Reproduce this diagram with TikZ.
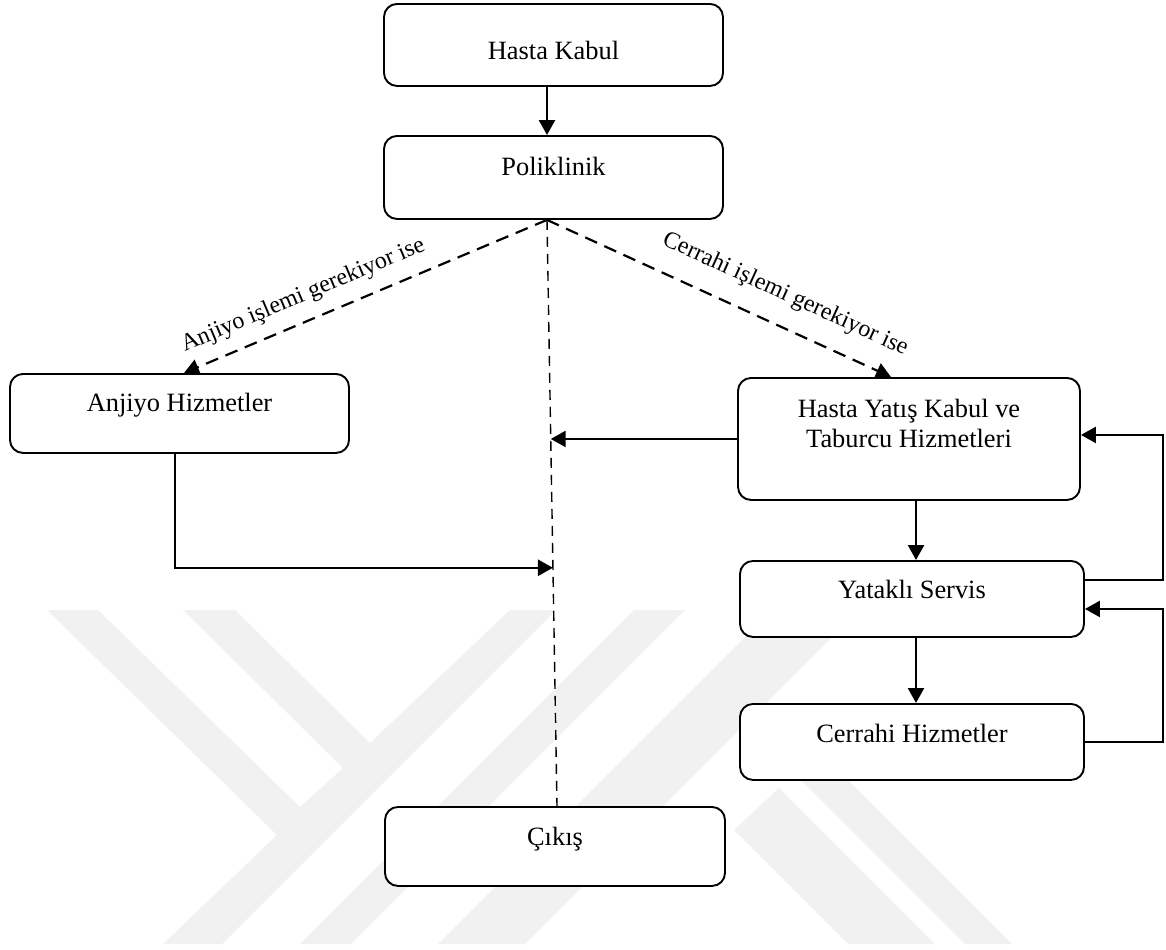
\documentclass[tikz,border=0pt]{standalone}
\usepackage{fontspec}
\setmainfont{Liberation Serif}
\usetikzlibrary{arrows.meta,calc}
\definecolor{wm}{HTML}{F1F1F1}
\begin{document}
\begin{tikzpicture}[x=1pt,y=-1pt,
  box/.style={draw, line width=0.95pt, rounded corners=6.5pt, fill=white, anchor=north,
    inner xsep=0pt, inner ysep=0pt, minimum height=0pt, font=\fontsize{13.2}{15}\selectfont},
  arr/.style={line width=1.25pt, -{Triangle[length=7.5pt,width=8pt]}},
  dline/.style={line width=1.1pt, dash pattern=on 6.5pt off 4pt, -{Triangle[length=7.5pt,width=8pt]}},
  vline/.style={line width=0.7pt, dash pattern=on 5pt off 3.5pt},
  lbl/.style={font=\fontsize{12}{14}\selectfont, sloped, anchor=south, inner xsep=0pt}]
\useasboundingbox (0,0) rectangle (583,474.5);
% watermark
\fill[wm] (23.5,305) -- (49,305) -- (150,403.5) -- (171.5,384) -- (91.5,305) -- (117.5,305)
  -- (185,371.5) -- (255,305) -- (278,305) -- (111,472) -- (81.5,472) -- (138.5,417.5) -- cycle;
\fill[wm] (317,305) -- (342.5,305) -- (175.5,472) -- (150,472) -- cycle;
\fill[wm] (386,305) -- (429.5,305) -- (262.5,472) -- (219,472) -- cycle;
\fill[wm] (367,415) -- (389.5,394) -- (467.5,472) -- (424,472) -- cycle;
\fill[wm] (395.5,385) -- (419,385) -- (506,472) -- (482.5,472) -- cycle;
% boxes
\node[box, minimum width=169.5pt, text height=28pt, text depth=13pt] (hk) at (276.75,1.5) {Hasta Kabul};
\node[box, minimum width=169.5pt, text height=20pt, text depth=21.5pt] (poli) at (276.75,67.5) {Poliklinik};
\node[box, minimum width=169.5pt, text height=19pt, text depth=20.5pt] (anj) at (89.75,186.5) {Anjiyo Hizmetler};
\node[box, minimum width=171pt, text height=20pt, text depth=41pt] (hy) at (454.5,188.5)
  {\begin{tabular}[t]{@{}c@{}}Hasta Yatış Kabul ve\\Taburcu Hizmetleri\end{tabular}};
\node[box, minimum width=172pt, text height=19pt, text depth=19pt] (yat) at (456,280) {Yataklı Servis};
\node[box, minimum width=172pt, text height=19.5pt, text depth=18.5pt] (cer) at (456,351.5) {Cerrahi Hizmetler};
\node[box, minimum width=170pt, text height=19.5pt, text depth=20pt] (cik) at (277.5,403) {Çıkış};
% helper coordinates
\coordinate (apex) at ([xshift=-3.25pt]poli.south);
\coordinate (cikN) at ([xshift=1pt]cik.north);
\coordinate (m1) at ($(apex)!0.5935!(cikN)$);
\coordinate (m2) at ($(apex)!0.374!(cikN)$);
\coordinate (xr) at (581.5,0);
% connectors
\draw[arr] ([xshift=-3.25pt]hk.south) -- ([xshift=-3.25pt]poli.north);
\draw[vline] (apex) -- (cikN);
\draw[dline] (apex) -- node[lbl, pos=0.645, inner ysep=6.4pt] {Anjiyo işlemi gerekiyor ise} ([xshift=2.25pt]anj.north);
\draw[dline] (apex) -- node[lbl, pos=0.655, inner ysep=9.5pt] {Cerrahi işlemi gerekiyor ise} ([xshift=-9pt]hy.north);
\draw[arr] ([xshift=-2.25pt]anj.south) |- (m1);
\draw[arr] (hy.west) -- (hy.west -| m2);
\draw[arr] ([xshift=3.5pt]hy.south) -- ([xshift=3.5pt]hy.south |- yat.north);
\draw[arr] ([xshift=2pt]yat.south) -- ([xshift=2pt]cer.north);
\draw[arr] ([yshift=9.5pt]yat.east) -| ([yshift=2pt]hy.east -| xr) -- ([yshift=2pt]hy.east);
\draw[arr] (cer.east) -| ([yshift=-5pt]yat.east -| xr) -- ([yshift=-5pt]yat.east);
\end{tikzpicture}
\end{document}
